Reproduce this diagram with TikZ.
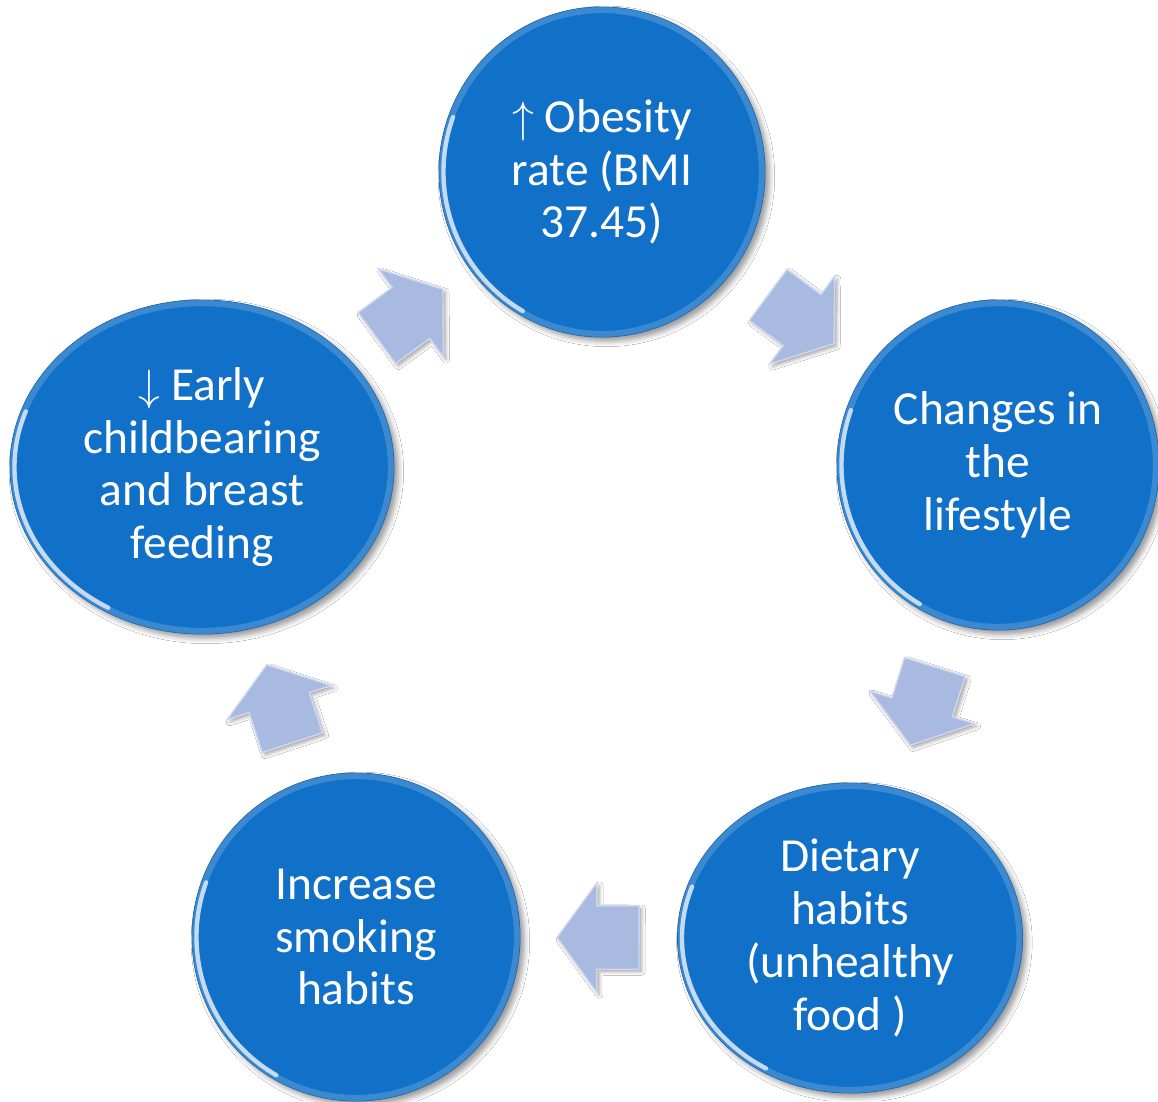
\documentclass[tikz,border=0pt]{standalone}
\usepackage{fontspec}
\setmainfont{Carlito}
\usetikzlibrary{calc,shapes.geometric,shapes.arrows,shadows.blur}

\definecolor{stageblue}{HTML}{1170C8}
\definecolor{arrowfill}{HTML}{A9BAE0}
\definecolor{arrowedge}{HTML}{CDD8F0}

\begin{document}
\begin{tikzpicture}[
  stage/.style={ellipse, fill=stageblue, draw=stageblue!85!black, line width=0.5pt,
    text=white, align=center, inner sep=0pt, font=\fontsize{27}{30}\selectfont,
    blur shadow={shadow xshift=2.5pt, shadow yshift=-2.5pt, shadow opacity=40, shadow blur radius=3pt}},
  cyclearrow/.style={single arrow, fill=arrowfill, draw=arrowedge, line width=0.8pt,
    minimum height=1.64cm, inner xsep=0pt, inner ysep=0.62cm,
    single arrow head extend=0.46cm, single arrow tip angle=108,
    blur shadow={shadow xshift=1.5pt, shadow yshift=-1.5pt, shadow opacity=35, shadow blur radius=2pt}},
  rim/.style={line width=7pt, white, opacity=0.18},
  glint/.style={line width=2.5pt, white, opacity=0.7, line cap=round}
]
% Canvas
\useasboundingbox[fill=white] (0,0) rectangle (23.16,-22.02);

% Stages
\node[stage, minimum width=6.52cm, minimum height=6.60cm] (top) at (12.04,-3.44)
  {$\uparrow$ Obesity\\rate (BMI\\37.45)};
\node[stage, minimum width=6.44cm, minimum height=6.60cm] (rgt) at (19.96,-9.30)
  {Changes in\\the\\lifestyle};
\node[stage, minimum width=6.90cm, minimum height=6.20cm] (drt) at (17.00,-18.76)
  {Dietary\\habits\\(unhealthy\\food )};
\node[stage, minimum width=6.56cm, minimum height=6.56cm] (dlf) at (7.12,-18.74)
  {Increase\\smoking\\habits};
\node[stage, minimum width=7.68cm, minimum height=6.68cm] (lft) at (4.04,-9.34)
  {$\downarrow$ Early\\childbearing\\and breast\\feeding};

% Bevel on the rims
\foreach \n/\rx/\ry in {top/3.26/3.30, rgt/3.22/3.30, drt/3.45/3.10, dlf/3.28/3.28, lft/3.84/3.34} {
  \pgfmathsetmacro\ax{\rx-0.09}
  \pgfmathsetmacro\ay{\ry-0.09}
  \begin{scope}
    \clip (\n.center) ellipse [x radius=\rx, y radius=\ry];
    \draw[rim] (\n.center) ellipse [x radius=\rx, y radius=\ry];
    \draw[glint] (\n.center) ++(160:\ax cm and \ay cm)
      arc[start angle=160, end angle=240, x radius=\ax, y radius=\ay];
  \end{scope}
}

% Arrows between the stages, centred on the gap
\foreach \s/\t [count=\i] in {top/rgt, rgt/drt, drt/dlf, dlf/lft, lft/top} {
  \path (\s) -- (\t) coordinate[midway] (m\i);
  \path ($(m\i)!0.82cm!(\s)$) -- (\t)
    node[cyclearrow, pos=0, sloped, allow upside down, anchor=tail] (arr\i) {};
}

\end{tikzpicture}
\end{document}
